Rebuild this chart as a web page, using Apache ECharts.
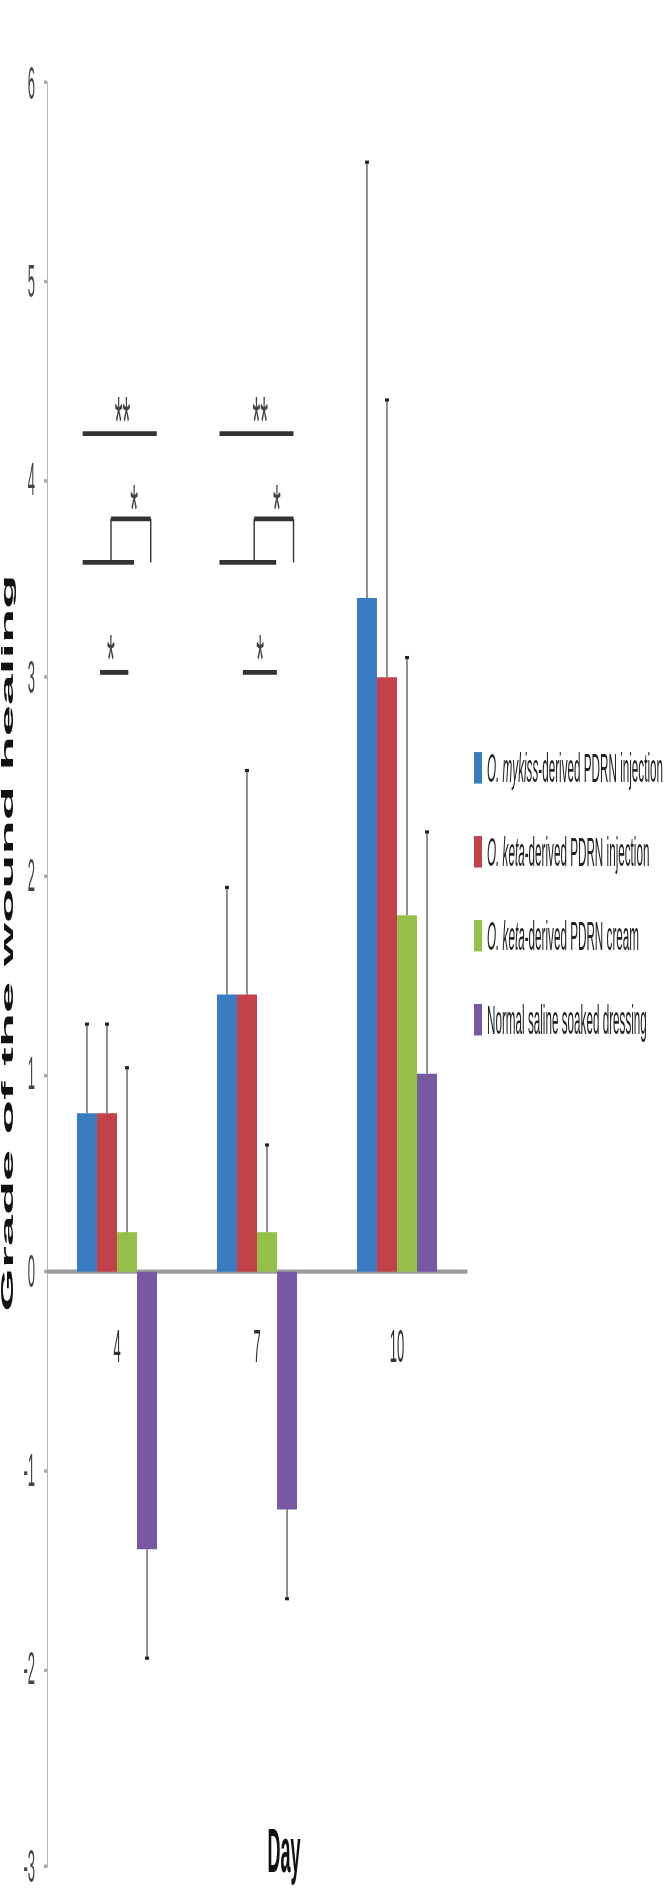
<!DOCTYPE html>
<html>
<head>
<meta charset="utf-8">
<script src="https://cdn.jsdelivr.net/npm/echarts@6/dist/echarts.min.js"></script>
<style>
  html, body { margin: 0; padding: 0; background: #fff; }
  body { width: 666px; height: 1889px; }
  /* the source figure is stretched vertically, so the chart is drawn short and scaled up */
  #main { width: 666px; height: 540px; transform: scaleY(3.4981); transform-origin: 0 0; will-change: transform; }
</style>
</head>
<body>
<div id="main"></div>
<script>
const days = ['4', '7', '10'];
const seriesNames = [
    'O. mykiss-derived PDRN injection',
    'O. keta-derived PDRN injection',
    'O. keta-derived PDRN cream',
    'Normal saline soaked dressing'
];
const mykissInjection = [0.8, 1.4, 3.4];
const ketaInjection = [0.8, 1.4, 3.0];
const ketaCream = [0.2, 0.2, 1.8];
const salineDressing = [-1.4, -1.2, 1.0];

const mykissInjectionErr = [0.45, 0.54, 2.2];
const ketaInjectionErr = [0.45, 1.13, 1.4];
const ketaCreamErr = [0.83, 0.44, 1.3];
const salineDressingErr = [0.55, 0.45, 1.22];

const yMin = -3;
const yMax = 6;
const yStep = 1;

// significance marks, in axis units (x: 0..3 across the three days)
const sigSegments = [
    [0.255, 4.23, 0.784, 4.23],
    [0.255, 3.58, 0.622, 3.58],
    [0.457, 3.58, 0.457, 3.80],
    [0.457, 3.80, 0.741, 3.80],
    [0.741, 3.80, 0.741, 3.58],
    [0.379, 3.025, 0.581, 3.025],
    [1.232, 4.23, 1.761, 4.23],
    [1.232, 3.58, 1.637, 3.58],
    [1.480, 3.58, 1.480, 3.80],
    [1.480, 3.80, 1.761, 3.80],
    [1.761, 3.80, 1.761, 3.58],
    [1.399, 3.025, 1.642, 3.025]
];
const sigStarX = [0.54, 0.622, 0.457, 1.523, 1.642, 1.523];
const sigStarY = [4.36, 3.92, 3.16, 4.36, 3.92, 3.16];
const sigStarText = ['**', '*', '*', '**', '*', '*'];

const colors = ['#3a7cc2', '#c3424a', '#97c04a', '#7659a2'];
const BAR_FRAC = 0.143;

const gridTop = 23.7;
const gridBottom = 6.3;
const chartHeight = 540;
const plotHeight = chartHeight - gridTop - gridBottom;
// put the day axis (line and labels) on the zero line
const zeroOffset = -(0 - yMin) / (yMax - yMin) * plotHeight;

const chart = echarts.init(document.getElementById('main'), null, { renderer: 'svg' });

const means = [mykissInjection, ketaInjection, ketaCream, salineDressing];
const errs = [mykissInjectionErr, ketaInjectionErr, ketaCreamErr, salineDressingErr];

const errData = [];
means.forEach((arr, s) => {
    arr.forEach((v, c) => {
        errData.push([c, v, errs[s][c], s]);
    });
});

const barSeries = means.map((arr, i) => ({
    name: seriesNames[i],
    type: 'bar',
    data: arr,
    barWidth: (BAR_FRAC * 100) + '%',
    barGap: '0%',
    itemStyle: { color: colors[i] }
}));

const legendLabel = {
    'O. mykiss-derived PDRN injection': '{i|O. mykiss}-derived PDRN injection',
    'O. keta-derived PDRN injection': '{i|O. keta}-derived PDRN injection',
    'O. keta-derived PDRN cream': '{i|O. keta}-derived PDRN cream',
    'Normal saline soaked dressing': 'Normal saline soaked dressing'
};

const STAR_SIZE = 20;

const option = {
    animation: false,
    color: colors,
    grid: {
        left: 47,
        right: 199,
        top: gridTop,
        bottom: gridBottom
    },
    legend: {
        data: seriesNames,
        orient: 'vertical',
        left: 474,
        top: 212.5,
        padding: 0,
        itemWidth: 8,
        itemHeight: 9,
        itemGap: 10,
        icon: 'rect',
        formatter: name => legendLabel[name],
        textStyle: {
            fontFamily: 'Liberation Sans',
            fontSize: 11.7,
            lineHeight: 14,
            color: '#222',
            rich: {
                i: { fontFamily: 'Liberation Sans', fontSize: 11.7, fontStyle: 'italic', color: '#222' }
            }
        }
    },
    xAxis: [
        {
            type: 'category',
            data: days,
            offset: zeroOffset,
            axisLine: { onZero: false, lineStyle: { color: '#9c9c9c', width: 1.2 } },
            axisTick: { show: false },
            axisLabel: { margin: 15, fontFamily: 'Liberation Sans', fontSize: 13, color: '#333' }
        },
        {
            type: 'value',
            min: 0,
            max: 3,
            show: false
        }
    ],
    yAxis: {
        type: 'value',
        min: yMin,
        max: yMax,
        interval: yStep,
        splitLine: { show: false },
        axisLine: { show: true, lineStyle: { color: '#b8b8b8', width: 1 } },
        axisTick: { show: true, length: 3, lineStyle: { color: '#aaa' } },
        axisLabel: { margin: 12, fontFamily: 'Liberation Sans', fontSize: 13, lineHeight: 10, color: '#444' }
    },
    graphic: [
        {
            type: 'text',
            x: 8,
            y: 269.6,
            rotation: Math.PI / 2,
            style: {
                text: 'Grade of the wound healing',
                align: 'center',
                verticalAlign: 'middle',
                fontFamily: 'Liberation Sans',
                fontWeight: 'bold',
                fontSize: 16,
                fill: '#111'
            }
        },
        {
            type: 'text',
            x: 284,
            y: 529,
            style: {
                text: 'Day',
                align: 'center',
                verticalAlign: 'middle',
                fontFamily: 'Liberation Sans Narrow, Liberation Sans',
                fontWeight: 'bold',
                fontSize: 18,
                fill: '#111'
            }
        }
    ],
    series: [
        ...barSeries,
        {
            name: 'errors',
            type: 'custom',
            z: 5,
            silent: true,
            data: errData,
            renderItem: (params, api) => {
                const c = api.value(0);
                const m = api.value(1);
                const e = api.value(2);
                const s = api.value(3);
                const base = api.coord([c, m]);
                const band = api.size([1, 0])[0];
                const x = base[0] + (s - 1.5) * band * BAR_FRAC;
                const tip = api.coord([c, m + (m < 0 ? -e : e)]);
                const st = { stroke: '#222', lineWidth: 1 };
                return {
                    type: 'group',
                    children: [
                        { type: 'line', shape: { x1: x, y1: base[1], x2: x, y2: tip[1] }, style: st },
                        { type: 'line', shape: { x1: x - 2, y1: tip[1], x2: x + 2, y2: tip[1] }, style: { stroke: '#222', lineWidth: 0.9 } }
                    ]
                };
            }
        },
        {
            name: 'sig',
            type: 'custom',
            xAxisIndex: 1,
            silent: true,
            data: sigSegments,
            renderItem: (params, api) => {
                const p1 = api.coord([api.value(0), api.value(1)]);
                const p2 = api.coord([api.value(2), api.value(3)]);
                return {
                    type: 'line',
                    shape: { x1: p1[0], y1: p1[1], x2: p2[0], y2: p2[1] },
                    style: { stroke: '#333', lineWidth: 1.4 }
                };
            }
        },
        {
            name: 'stars',
            type: 'custom',
            xAxisIndex: 1,
            silent: true,
            data: sigStarX.map((x, i) => [x, sigStarY[i]]),
            renderItem: (params, api) => {
                const p = api.coord([api.value(0), api.value(1)]);
                return {
                    type: 'text',
                    x: p[0],
                    // the asterisk sits high in its line box
                    y: p[1] + 0.2 * STAR_SIZE,
                    style: {
                        text: sigStarText[params.dataIndex],
                        align: 'center',
                        verticalAlign: 'middle',
                        fontFamily: 'Liberation Sans',
                        fontSize: STAR_SIZE,
                        fill: '#444'
                    }
                };
            }
        }
    ]
};

chart.setOption(option);

window.addEventListener('resize', _ => {
    chart.resize();
});
</script>
</body>
</html>
